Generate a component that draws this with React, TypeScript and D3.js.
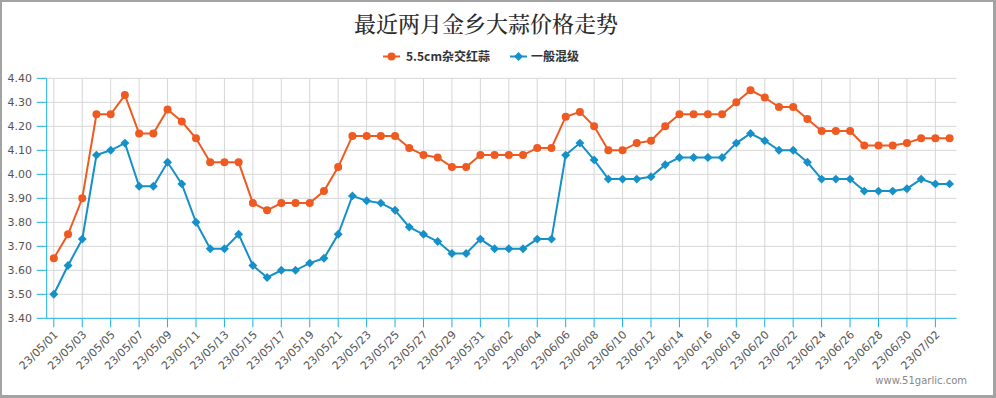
import * as d3 from 'd3';

const dates = [
  '23/05/01', '23/05/02', '23/05/03', '23/05/04', '23/05/05', '23/05/06', '23/05/07', '23/05/08',
  '23/05/09', '23/05/10', '23/05/11', '23/05/12', '23/05/13', '23/05/14', '23/05/15', '23/05/16',
  '23/05/17', '23/05/18', '23/05/19', '23/05/20', '23/05/21', '23/05/22', '23/05/23', '23/05/24',
  '23/05/25', '23/05/26', '23/05/27', '23/05/28', '23/05/29', '23/05/30', '23/05/31', '23/06/01',
  '23/06/02', '23/06/03', '23/06/04', '23/06/05', '23/06/06', '23/06/07', '23/06/08', '23/06/09',
  '23/06/10', '23/06/11', '23/06/12', '23/06/13', '23/06/14', '23/06/15', '23/06/16', '23/06/17',
  '23/06/18', '23/06/19', '23/06/20', '23/06/21', '23/06/22', '23/06/23', '23/06/24', '23/06/25',
  '23/06/26', '23/06/27', '23/06/28', '23/06/29', '23/06/30', '23/07/01', '23/07/02', '23/07/03',
];

// 5.5cm杂交红蒜
const redGarlic = [
  3.65, 3.75, 3.9, 4.25, 4.25, 4.33, 4.17, 4.17, 4.27, 4.22, 4.15, 4.05, 4.05, 4.05, 3.88, 3.85,
  3.88, 3.88, 3.88, 3.93, 4.03, 4.16, 4.16, 4.16, 4.16, 4.11, 4.08, 4.07, 4.03, 4.03, 4.08, 4.08,
  4.08, 4.08, 4.11, 4.11, 4.24, 4.26, 4.2, 4.1, 4.1, 4.13, 4.14, 4.2, 4.25, 4.25, 4.25, 4.25,
  4.3, 4.35, 4.32, 4.28, 4.28, 4.23, 4.18, 4.18, 4.18, 4.12, 4.12, 4.12, 4.13, 4.15, 4.15, 4.15,
];

// 一般混级
const mixedGrade = [
  3.5, 3.62, 3.73, 4.08, 4.1, 4.13, 3.95, 3.95, 4.05, 3.96, 3.8, 3.69, 3.69, 3.75, 3.62, 3.57,
  3.6, 3.6, 3.63, 3.65, 3.75, 3.91, 3.89, 3.88, 3.85, 3.78, 3.75, 3.72, 3.67, 3.67, 3.73, 3.69,
  3.69, 3.69, 3.73, 3.73, 4.08, 4.13, 4.06, 3.98, 3.98, 3.98, 3.99, 4.04, 4.07, 4.07, 4.07, 4.07,
  4.13, 4.17, 4.14, 4.1, 4.1, 4.05, 3.98, 3.98, 3.98, 3.93, 3.93, 3.93, 3.94, 3.98, 3.96, 3.96,
];

const yTicks = [3.4, 3.5, 3.6, 3.7, 3.8, 3.9, 4.0, 4.1, 4.2, 4.3, 4.4];

const W = 996;
const H = 398;
const plot = { left: 46.7, right: 956.7, top: 78.3, bottom: 318.3 };
const ORANGE = '#ef5a21';
const BLUE = '#1690c8';
const AXIS = '#1ab0e2';
const GRID = '#d6d6d6';
const LABEL_FONT = '"DejaVu Sans", Verdana, sans-serif';

export default function App() {
  const x = d3.scaleBand<string>().domain(dates).range([plot.left, plot.right]).padding(0);
  const cx = (d: string) => (x(d) ?? 0) + x.bandwidth() / 2;
  const y = d3.scaleLinear().domain([3.4, 4.4]).range([plot.bottom, plot.top]);

  const line = d3
    .line<number>()
    .x((_, i) => cx(dates[i]))
    .y((v) => y(v));

  const diamond = d3.symbol().type(d3.symbolSquare).size(40)();
  const tickDates = dates.filter((_, i) => i % 2 === 0);

  return (
    <div style={{ position: 'absolute', left: 0, top: 0 }}>
      <svg width={W} height={H} style={{ display: 'block', background: '#fff' }}>
        {/* frame */}
        <rect x={0} y={0} width={W} height={2} fill="#a3a3a3" />
        <rect x={0} y={0} width={2} height={H} fill="#a3a3a3" />
        <rect x={W - 3} y={0} width={3} height={H} fill="#a3a3a3" />
        <rect x={0} y={H - 3} width={W} height={3} fill="#a3a3a3" />

        <text
          x={486}
          y={32}
          textAnchor="middle"
          fontSize={22}
          fontWeight={500}
          fill="#2b2b2b"
          fontFamily='"Noto Serif CJK SC", "Noto Sans CJK SC", serif'
        >
          最近两月金乡大蒜价格走势
        </text>

        {/* legend */}
        <g fontFamily='"Noto Sans CJK SC", sans-serif' fontSize={12} fontWeight="bold" fill="#333">
          <line x1={383} x2={400} y1={56.5} y2={56.5} stroke={ORANGE} strokeWidth={2} />
          <circle cx={391.5} cy={56.5} r={4} fill={ORANGE} />
          <text x={406} y={61}>5.5cm杂交红蒜</text>
          <line x1={510} x2={527} y1={56.5} y2={56.5} stroke={BLUE} strokeWidth={2} />
          <path d={diamond} transform="translate(518.5,56.5) rotate(45)" fill={BLUE} />
          <text x={531} y={61}>一般混级</text>
        </g>

        {/* grid */}
        <g stroke={GRID} strokeWidth={1}>
          {yTicks.slice(1).map((t) => (
            <line key={t} x1={plot.left} x2={plot.right} y1={y(t)} y2={y(t)} />
          ))}
          {tickDates.map((d) => (
            <line key={d} x1={cx(d)} x2={cx(d)} y1={plot.top} y2={plot.bottom} />
          ))}
        </g>

        {/* y axis */}
        <g>
          <line x1={plot.left} x2={plot.left} y1={plot.top} y2={plot.bottom} stroke={AXIS} />
          {yTicks.map((t) => (
            <g key={t}>
              <line x1={plot.left - 10} x2={plot.left} y1={y(t)} y2={y(t)} stroke={AXIS} />
              <text
                x={32}
                y={y(t) + 4}
                textAnchor="end"
                fontSize={11}
                fill="#555"
                fontFamily={LABEL_FONT}
              >
                {t.toFixed(2)}
              </text>
            </g>
          ))}
        </g>

        {/* x axis */}
        <g>
          <line x1={plot.left} x2={plot.right} y1={plot.bottom} y2={plot.bottom} stroke={AXIS} />
          {tickDates.map((d) => (
            <g key={d}>
              <line x1={cx(d)} x2={cx(d)} y1={plot.bottom} y2={plot.bottom + 9} stroke={AXIS} />
              <text
                transform={`translate(${cx(d) + 5},${plot.bottom + 17}) rotate(-45)`}
                textAnchor="end"
                fontSize={11}
                fill="#555"
                fontFamily={LABEL_FONT}
              >
                {d}
              </text>
            </g>
          ))}
        </g>

        {/* series */}
        <path d={line(redGarlic) ?? ''} fill="none" stroke={ORANGE} strokeWidth={2} />
        {redGarlic.map((v, i) => (
          <circle key={i} cx={cx(dates[i])} cy={y(v)} r={4} fill={ORANGE} />
        ))}
        <path d={line(mixedGrade) ?? ''} fill="none" stroke={BLUE} strokeWidth={2} />
        {mixedGrade.map((v, i) => (
          <path
            key={i}
            d={diamond}
            transform={`translate(${cx(dates[i])},${y(v)}) rotate(45)`}
            fill={BLUE}
          />
        ))}

        <text
          x={967}
          y={384}
          textAnchor="end"
          fontSize={10}
          fill="#888"
          fontFamily={LABEL_FONT}
        >
          www.51garlic.com
        </text>
      </svg>
    </div>
  );
}
